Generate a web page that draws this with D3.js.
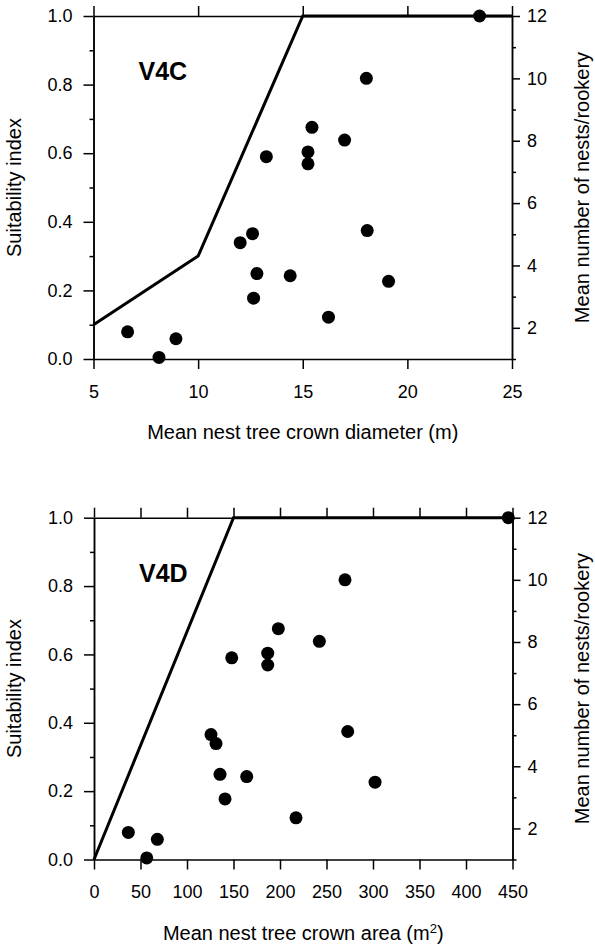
<!DOCTYPE html>
<html>
<head>
<meta charset="utf-8">
<script src="https://cdn.jsdelivr.net/npm/d3@7"></script>
<style>
  body { margin: 0; background: #fff; }
  svg { display: block; font-family: "Liberation Sans", Arial, sans-serif; }
</style>
</head>
<body>
<div id="container"></div>
<script>
// Rookeries (same rookeries in both panels)
const nests = [12, 10, 8.43, 7.49, 7.64, 7.26, 8.02, 5.12, 4.73, 5.02, 3.74, 3.67, 2.95, 3.49, 2.34, 1.87, 1.65, 1.05];
const crownDiameter = [23.45, 18.04, 15.44, 13.26, 15.25, 15.25, 17.0, 18.08, 12.01, 12.6, 12.81, 14.4, 12.65, 19.1, 16.23, 6.63, 8.94, 8.13];
const crownArea = [445.5, 269.9, 198.2, 148.1, 186.8, 186.8, 242.3, 272.8, 131.2, 125.8, 135.5, 164.2, 140.9, 302.2, 217.2, 36.9, 68.1, 56.7];

// Suitability index curves
const diamCurveX = [5, 10, 15, 25];
const diamCurveY = [0.1, 0.3, 1.0, 1.0];
const areaCurveX = [0, 150, 450];
const areaCurveY = [0, 1, 1];

// Tick values
const diamTicks = [5, 10, 15, 20, 25];
const areaTicks = [0, 50, 100, 150, 200, 250, 300, 350, 400, 450];
const suitTicks = [0, 0.2, 0.4, 0.6, 0.8, 1.0];
const suitMinor = [0.1, 0.3, 0.5, 0.7, 0.9];
const nestTicks = [2, 4, 6, 8, 10, 12];
const nestMinor = [1, 3, 5, 7, 9, 11];

const width = 595;
const height = 948;

const svg = d3.create("svg")
    .attr("width", width)
    .attr("height", height);

container.append(svg.node());

function styleAxis(g, size) {
  g.attr("font-size", size)
    .attr("font-family", "'Liberation Sans', Arial, sans-serif");
  g.selectAll("path, line").attr("stroke", "#000").attr("stroke-width", 1.5);
  g.selectAll("text").attr("fill", "#000");
}

function panel(p) {
  const x = d3.scaleLinear().domain(p.xDomain).range([p.left, p.right]);
  const ySuit = d3.scaleLinear().domain([0, 1]).range([p.bottom, p.top]);
  const yNest = d3.scaleLinear().domain([1, 12]).range([p.bottom, p.top]);

  // bottom axis
  svg.append("g")
      .attr("transform", `translate(0,${p.bottom})`)
      .call(d3.axisBottom(x).tickValues(p.xTicks).tickSize(10).tickPadding(16).tickSizeOuter(0))
      .call(g => styleAxis(g, 18));

  // top axis (ticks only)
  svg.append("g")
      .attr("transform", `translate(0,${p.top})`)
      .call(d3.axisTop(x).tickValues(p.xTicks).tickSize(10).tickFormat("").tickSizeOuter(0))
      .call(g => styleAxis(g, 18));

  // left axis
  svg.append("g")
      .attr("transform", `translate(${p.left},0)`)
      .call(d3.axisLeft(ySuit).tickValues(suitTicks).tickFormat(d3.format(".1f")).tickSize(10).tickPadding(11).tickSizeOuter(0))
      .call(g => styleAxis(g, 18));
  svg.append("g")
      .attr("transform", `translate(${p.left},0)`)
      .call(d3.axisLeft(ySuit).tickValues(suitMinor).tickFormat("").tickSize(4).tickSizeOuter(0))
      .call(g => styleAxis(g, 18));

  // right axis
  svg.append("g")
      .attr("transform", `translate(${p.right},0)`)
      .call(d3.axisRight(yNest).tickValues(nestTicks).tickSize(8).tickPadding(7).tickSizeOuter(0))
      .call(g => styleAxis(g, 18));
  svg.append("g")
      .attr("transform", `translate(${p.right},0)`)
      .call(d3.axisRight(yNest).tickValues(nestMinor).tickFormat("").tickSize(4).tickSizeOuter(0))
      .call(g => styleAxis(g, 18));

  // suitability curve
  const line = d3.line()
      .x(d => x(d[0]))
      .y(d => ySuit(d[1]));
  svg.append("path")
      .datum(d3.zip(p.curveX, p.curveY))
      .attr("fill", "none")
      .attr("stroke", "#000")
      .attr("stroke-width", 3)
      .attr("stroke-linejoin", "miter")
      .attr("d", line);

  // rookery points
  svg.append("g")
    .selectAll("circle")
    .data(d3.zip(p.xs, nests))
    .join("circle")
      .attr("cx", d => x(d[0]))
      .attr("cy", d => yNest(d[1]))
      .attr("r", 6.5)
      .attr("fill", "#000");

  // panel label
  svg.append("text")
      .attr("x", p.left + 45)
      .attr("y", p.top + 64)
      .attr("font-size", 25)
      .attr("font-weight", "bold")
      .text(p.label);

  // axis titles
  const xt = svg.append("text")
      .attr("x", (p.left + p.right) / 2)
      .attr("y", p.bottom + 80)
      .attr("text-anchor", "middle")
      .attr("font-size", 20)
      .text(p.xTitle);
  if (p.xSup) {
    xt.append("tspan").attr("baseline-shift", "super").attr("font-size", 13).text(p.xSup);
    xt.append("tspan").text(")");
  }

  const cy = (p.top + p.bottom) / 2;
  svg.append("text")
      .attr("transform", `translate(21,${cy}) rotate(-90)`)
      .attr("text-anchor", "middle")
      .attr("font-size", 20)
      .text("Suitability index");

  svg.append("text")
      .attr("transform", `translate(589,${cy}) rotate(-90)`)
      .attr("text-anchor", "middle")
      .attr("font-size", 20)
      .text("Mean number of nests/rookery");
}

panel({
  left: 93.5, right: 512, top: 16, bottom: 359,
  xDomain: [5, 25], xTicks: diamTicks,
  curveX: diamCurveX, curveY: diamCurveY,
  xs: crownDiameter, label: "V4C",
  xTitle: "Mean nest tree crown diameter (m)"
});

panel({
  left: 94, right: 512.5, top: 517.7, bottom: 859.5,
  xDomain: [0, 450], xTicks: areaTicks,
  curveX: areaCurveX, curveY: areaCurveY,
  xs: crownArea, label: "V4D",
  xTitle: "Mean nest tree crown area (m", xSup: "2"
});
</script>
</body>
</html>
